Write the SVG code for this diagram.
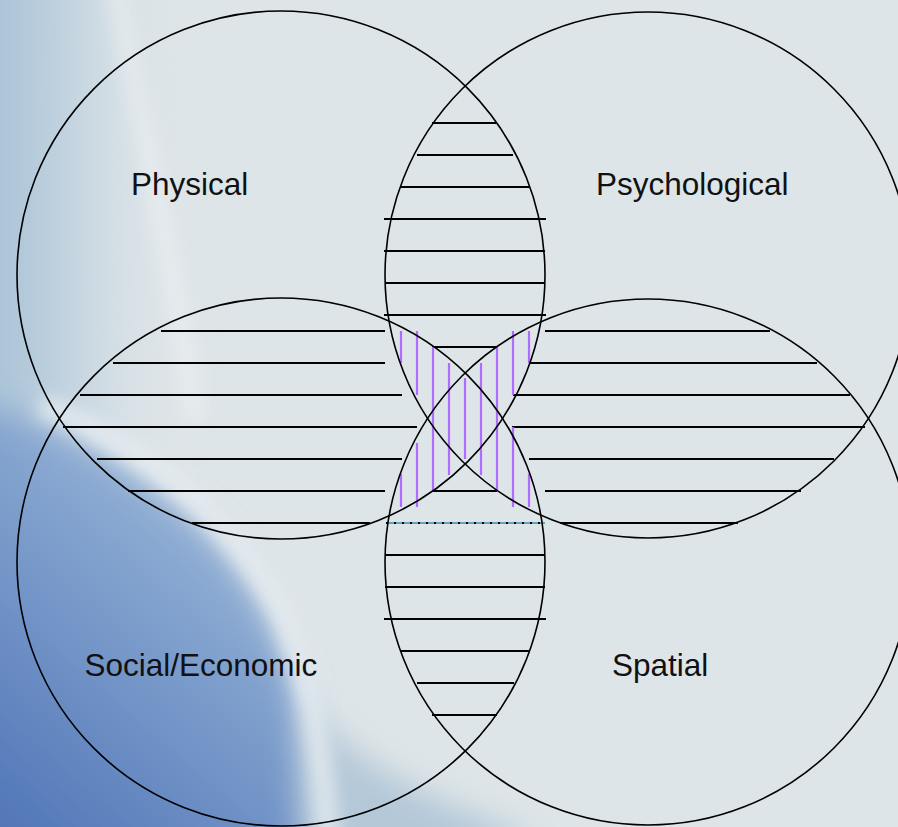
<svg xmlns="http://www.w3.org/2000/svg" width="898" height="827" viewBox="0 0 898 827">
<style>
.c{fill:none;stroke:#000;stroke-width:1.6}
.h line{stroke:#000;stroke-width:2}
.p line{stroke:#b06cff;stroke-width:2.2}
.t{font-family:"Liberation Sans",Arial,sans-serif;font-size:31.5px;fill:#111}
</style>
<defs>
<filter id="b40" x="-50%" y="-50%" width="200%" height="200%"><feGaussianBlur stdDeviation="35"/></filter>
<filter id="b20" x="-50%" y="-50%" width="200%" height="200%"><feGaussianBlur stdDeviation="16"/></filter>
<filter id="b8" x="-50%" y="-50%" width="200%" height="200%"><feGaussianBlur stdDeviation="8"/></filter>
<linearGradient id="blue" gradientUnits="userSpaceOnUse" x1="0" y1="827" x2="300" y2="480">
<stop offset="0" stop-color="#5276b8"/>
<stop offset="0.55" stop-color="#7d9ecc"/>
<stop offset="1" stop-color="#a6c0dc"/>
</linearGradient>
<linearGradient id="tl" gradientUnits="userSpaceOnUse" x1="0" y1="0" x2="130" y2="0">
<stop offset="0" stop-color="#a7c2d7"/>
<stop offset="1" stop-color="#dbe3e7"/>
</linearGradient>
</defs>
<g id="background">
<rect width="898" height="827" fill="#dee5e8"/>
<path d="M-100,-100 L110,-100 C130,150 150,300 120,460 L-100,460 Z" fill="url(#tl)" filter="url(#b40)"/>
<path d="M-100,390 C20,400 120,450 200,520 C250,570 290,640 305,720 C315,780 320,827 325,927 L-100,927 Z" fill="url(#blue)" filter="url(#b20)"/>
<path d="M300,690 C340,760 430,800 540,840 L300,900 Z" fill="#b4c8d8" filter="url(#b20)"/>
<path d="M115,-20 C140,120 170,250 195,420" fill="none" stroke="#eef2f4" stroke-width="20" opacity="0.5" filter="url(#b8)"/>
<path d="M40,405 C150,450 230,520 280,610 C310,680 322,750 328,840" fill="none" stroke="#eef3f5" stroke-width="24" opacity="0.65" filter="url(#b8)"/>
</g>
<g id="hatching" class="h">
<line x1="432" y1="123" x2="496" y2="123"/>
<line x1="417" y1="155" x2="513" y2="155"/>
<line x1="400" y1="187" x2="530" y2="187"/>
<line x1="384" y1="219" x2="546" y2="219"/>
<line x1="384" y1="251" x2="545" y2="251"/>
<line x1="385" y1="283" x2="545" y2="283"/>
<line x1="384" y1="315" x2="546" y2="315"/>
<line x1="432" y1="347" x2="497" y2="347"/>
<line x1="161" y1="331" x2="385" y2="331"/>
<line x1="113" y1="363" x2="385" y2="363"/>
<line x1="80" y1="395" x2="402" y2="395"/>
<line x1="63" y1="427" x2="417" y2="427"/>
<line x1="97" y1="459" x2="402" y2="459"/>
<line x1="128" y1="491" x2="385" y2="491"/>
<line x1="192" y1="523" x2="370" y2="523"/>
<line x1="545" y1="331" x2="770" y2="331"/>
<line x1="530" y1="363" x2="817" y2="363"/>
<line x1="513" y1="395" x2="850" y2="395"/>
<line x1="512" y1="427" x2="865" y2="427"/>
<line x1="529" y1="459" x2="834" y2="459"/>
<line x1="545" y1="491" x2="801" y2="491"/>
<line x1="560" y1="523" x2="738" y2="523"/>
<line x1="433" y1="491" x2="497" y2="491"/>
<line x1="385" y1="555" x2="545" y2="555"/>
<line x1="385" y1="587" x2="545" y2="587"/>
<line x1="384" y1="619" x2="546" y2="619"/>
<line x1="400" y1="651" x2="530" y2="651"/>
<line x1="417" y1="683" x2="514" y2="683"/>
<line x1="432" y1="715" x2="497" y2="715"/>
</g>
<g id="dashed-line">
<line x1="386" y1="523" x2="545" y2="523" stroke="#5fa6b8" stroke-width="2"/>
<line x1="386" y1="523" x2="545" y2="523" stroke="#000" stroke-width="2" stroke-dasharray="2 6"/>
</g>
<g id="purple-hatching" class="p">
<line x1="401" y1="331" x2="401" y2="363"/>
<line x1="401" y1="474" x2="401" y2="507"/>
<line x1="417" y1="331" x2="417" y2="395"/>
<line x1="417" y1="443" x2="417" y2="507"/>
<line x1="433" y1="347" x2="433" y2="491"/>
<line x1="449" y1="363" x2="449" y2="475"/>
<line x1="465" y1="378" x2="465" y2="459"/>
<line x1="481" y1="363" x2="481" y2="475"/>
<line x1="497" y1="347" x2="497" y2="491"/>
<line x1="513" y1="331" x2="513" y2="395"/>
<line x1="513" y1="427" x2="513" y2="507"/>
<line x1="529" y1="331" x2="529" y2="363"/>
<line x1="529" y1="474" x2="529" y2="507"/>
</g>
<g id="physical">
<circle class="c" cx="281" cy="275" r="264"/>
<text class="t" x="131" y="195">Physical</text>
</g>
<g id="psychological">
<circle class="c" cx="648" cy="275" r="263"/>
<text class="t" x="596" y="195">Psychological</text>
</g>
<g id="social-economic">
<circle class="c" cx="281" cy="562" r="264"/>
<text class="t" x="84.5" y="676">Social/Economic</text>
</g>
<g id="spatial">
<circle class="c" cx="648" cy="562" r="263"/>
<text class="t" x="612" y="676">Spatial</text>
</g>
</svg>
